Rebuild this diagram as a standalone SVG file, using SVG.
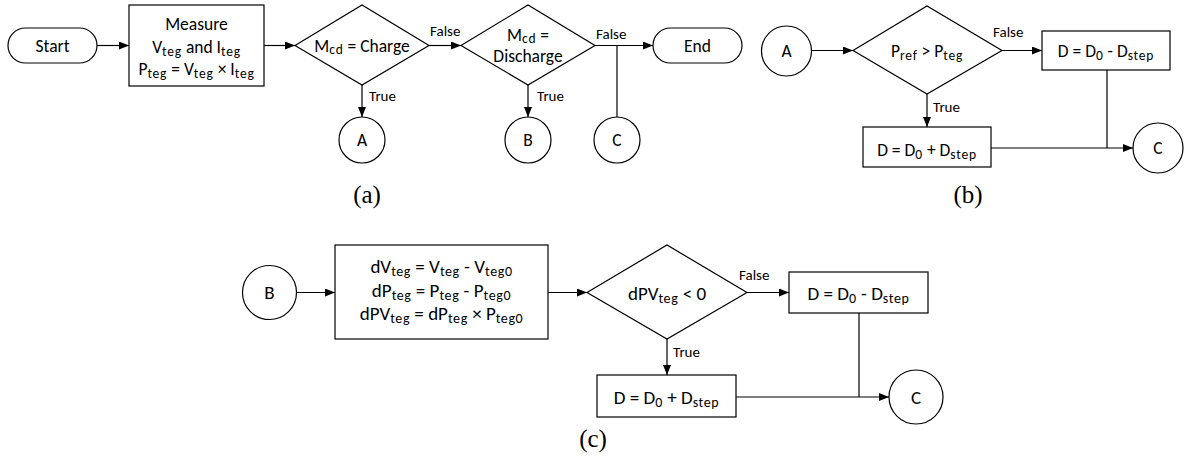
<svg xmlns="http://www.w3.org/2000/svg" width="1184" height="461" viewBox="0 0 1184 461">
<style>
.sh{fill:#fff;stroke:#000;stroke-width:1.2}
.ln{fill:none;stroke:#000;stroke-width:1.2}
.t{font-family:Carlito,Lato,"Liberation Sans",sans-serif;font-size:17.5px;fill:#000;text-anchor:middle}
.tc{font-family:Carlito,Lato,"Liberation Sans",sans-serif;font-size:19px;fill:#000;text-anchor:middle}
.lb{font-family:Carlito,Lato,"Liberation Sans",sans-serif;font-size:15px;fill:#000}
.s{font-size:13.5px;letter-spacing:0.8px}
.sc{font-size:14px;letter-spacing:0.6px}
.cap{font-family:"Liberation Serif","Times New Roman",serif;font-size:25px;fill:#000;text-anchor:middle}
</style>
<defs>
<marker id="ah" markerUnits="userSpaceOnUse" markerWidth="10" markerHeight="8" refX="10" refY="4" orient="auto">
<path d="M0,0 L10,4 L0,8 z" fill="#000"/>
</marker>
</defs>

<g id="connectors">
<!-- (a) -->
<line class="ln" x1="97" y1="45.5" x2="129" y2="45.5" marker-end="url(#ah)"/>
<line class="ln" x1="264" y1="45.5" x2="295" y2="45.5" marker-end="url(#ah)"/>
<line class="ln" x1="429" y1="45.5" x2="461" y2="45.5" marker-end="url(#ah)"/>
<line class="ln" x1="362" y1="85" x2="362" y2="117" marker-end="url(#ah)"/>
<line class="ln" x1="528" y1="85" x2="528" y2="117" marker-end="url(#ah)"/>
<line class="ln" x1="595" y1="45.5" x2="653" y2="45.5" marker-end="url(#ah)"/>
<line class="ln" x1="617" y1="45.5" x2="617" y2="117"/>
<!-- (b) -->
<line class="ln" x1="812" y1="50.5" x2="853" y2="50.5" marker-end="url(#ah)"/>
<line class="ln" x1="1002" y1="50.5" x2="1042" y2="50.5" marker-end="url(#ah)"/>
<line class="ln" x1="927" y1="94" x2="927" y2="127" marker-end="url(#ah)"/>
<line class="ln" x1="1107" y1="70" x2="1107" y2="148"/>
<line class="ln" x1="991" y1="148" x2="1133" y2="148" marker-end="url(#ah)"/>
<!-- (c) -->
<line class="ln" x1="297" y1="292.5" x2="335" y2="292.5" marker-end="url(#ah)"/>
<line class="ln" x1="548" y1="292.5" x2="587" y2="292.5" marker-end="url(#ah)"/>
<line class="ln" x1="747" y1="292.5" x2="789" y2="292.5" marker-end="url(#ah)"/>
<line class="ln" x1="667" y1="339" x2="667" y2="375" marker-end="url(#ah)"/>
<line class="ln" x1="859" y1="313" x2="859" y2="397"/>
<line class="ln" x1="736" y1="397" x2="889" y2="397" marker-end="url(#ah)"/>
<!-- labels -->
<text class="lb" x="430" y="36">False</text>
<text class="lb" x="369" y="101">True</text>
<text class="lb" x="596" y="39">False</text>
<text class="lb" x="537" y="101">True</text>
<text class="lb" x="993" y="37">False</text>
<text class="lb" x="933" y="112">True</text>
<text class="lb" x="739" y="280">False</text>
<text class="lb" x="673" y="357">True</text>
</g>

<!-- (a) -->
<g id="start">
<rect class="sh" x="8" y="28" width="89" height="35" rx="17.5"/>
<text class="t" x="52.5" y="51.5">Start</text>
</g>
<g id="measure">
<rect class="sh" x="129" y="5" width="135" height="81"/>
<text class="t" x="196.5" y="30">Measure</text>
<text class="t" x="196.5" y="52.5">V<tspan class="s" dy="3">teg</tspan><tspan dy="-3"> and I</tspan><tspan class="s" dy="3">teg</tspan></text>
<text class="t" x="196.5" y="75">P<tspan class="s" dy="3">teg</tspan><tspan dy="-3"> = V</tspan><tspan class="s" dy="3">teg</tspan><tspan dy="-3"> × I</tspan><tspan class="s" dy="3">teg</tspan></text>
</g>
<g id="dec-charge">
<polygon class="sh" points="295,45.5 362,5 429,45.5 362,85"/>
<text class="t" x="362" y="51.5">M<tspan class="s" dy="2">cd</tspan><tspan dy="-2"> = Charge</tspan></text>
</g>
<g id="dec-discharge">
<polygon class="sh" points="461,45.5 528,5 595,45.5 528,85"/>
<text class="t" x="528" y="40.5">M<tspan class="s" dy="2">cd</tspan><tspan dy="-2"> =</tspan></text>
<text class="t" x="528" y="61.5">Discharge</text>
</g>
<g id="end">
<rect class="sh" x="653" y="28" width="89" height="35" rx="17.5"/>
<text class="t" x="697.5" y="51.5">End</text>
</g>
<g id="a-A">
<circle class="sh" cx="362" cy="140" r="23"/>
<text class="t" x="362" y="146">A</text>
</g>
<g id="a-B">
<circle class="sh" cx="528" cy="140" r="23"/>
<text class="t" x="528" y="146">B</text>
</g>
<g id="a-C">
<circle class="sh" cx="617" cy="140" r="23"/>
<text class="t" x="617" y="146">C</text>
</g>
<text class="cap" x="367" y="203">(a)</text>

<!-- (b) -->
<g id="b-A">
<circle class="sh" cx="786.5" cy="51" r="25"/>
<text class="t" x="786.5" y="57">A</text>
</g>
<g id="b-dec">
<polygon class="sh" points="853,50.5 927,6 1002,50.5 927,94"/>
<text class="t" x="927" y="57">P<tspan class="s" dy="3">ref</tspan><tspan dy="-3"> &gt; P</tspan><tspan class="s" dy="3">teg</tspan></text>
</g>
<g id="b-minus">
<rect class="sh" x="1042" y="31" width="128" height="39"/>
<text class="t" x="1106" y="57">D = D<tspan class="s" dy="3">0</tspan><tspan dy="-3"> - D</tspan><tspan class="s" dy="3">step</tspan></text>
</g>
<g id="b-plus">
<rect class="sh" x="863" y="127" width="128" height="40"/>
<text class="t" x="927" y="156">D = D<tspan class="s" dy="3">0</tspan><tspan dy="-3"> + D</tspan><tspan class="s" dy="3">step</tspan></text>
</g>
<g id="b-C">
<circle class="sh" cx="1158" cy="148" r="25"/>
<text class="t" x="1158" y="154">C</text>
</g>
<text class="cap" x="968" y="203">(b)</text>

<!-- (c) -->
<g id="c-B">
<circle class="sh" cx="269.5" cy="292.5" r="27"/>
<text class="tc" x="269.5" y="299">B</text>
</g>
<g id="c-calc">
<rect class="sh" x="335" y="245" width="213" height="94"/>
<text class="tc" x="441.5" y="273">dV<tspan class="sc" dy="3">teg</tspan><tspan dy="-3"> = V</tspan><tspan class="sc" dy="3">teg</tspan><tspan dy="-3"> - V</tspan><tspan class="sc" dy="3">teg0</tspan></text>
<text class="tc" x="441.5" y="297">dP<tspan class="sc" dy="3">teg</tspan><tspan dy="-3"> = P</tspan><tspan class="sc" dy="3">teg</tspan><tspan dy="-3"> - P</tspan><tspan class="sc" dy="3">teg0</tspan></text>
<text class="tc" x="441.5" y="320">dPV<tspan class="sc" dy="3">teg</tspan><tspan dy="-3"> = dP</tspan><tspan class="sc" dy="3">teg</tspan><tspan dy="-3"> × P</tspan><tspan class="sc" dy="3">teg0</tspan></text>
</g>
<g id="c-dec">
<polygon class="sh" points="587,292.5 667,245 747,292.5 667,339"/>
<text class="tc" x="667" y="300">dPV<tspan class="sc" dy="3">teg</tspan><tspan dy="-3"> &lt; 0</tspan></text>
</g>
<g id="c-minus">
<rect class="sh" x="789" y="272" width="139" height="41"/>
<text class="tc" x="858.5" y="299.5">D = D<tspan class="sc" dy="3">0</tspan><tspan dy="-3"> - D</tspan><tspan class="sc" dy="3">step</tspan></text>
</g>
<g id="c-plus">
<rect class="sh" x="597" y="375" width="139" height="42"/>
<text class="tc" x="666.5" y="403.5">D = D<tspan class="sc" dy="3">0</tspan><tspan dy="-3"> + D</tspan><tspan class="sc" dy="3">step</tspan></text>
</g>
<g id="c-C">
<circle class="sh" cx="916" cy="397" r="27"/>
<text class="tc" x="916" y="403.5">C</text>
</g>
<text class="cap" x="593" y="447">(c)</text>
</svg>
